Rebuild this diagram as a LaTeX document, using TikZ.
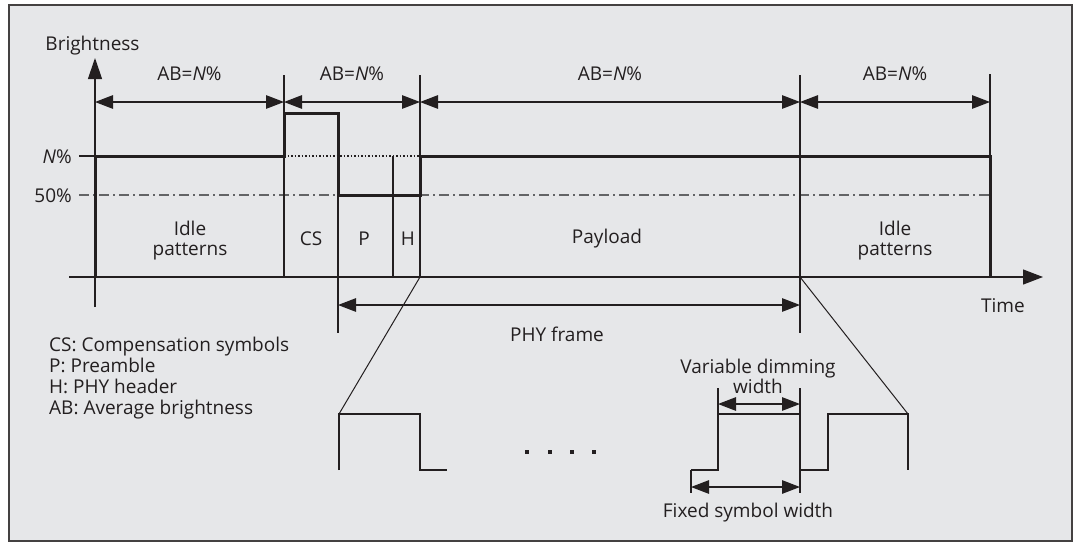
\documentclass[tikz,border=0pt]{standalone}
\usepackage{fontspec}
\setmainfont{Open Sans}
\usetikzlibrary{arrows.meta}
\definecolor{panel}{HTML}{E6E7E9}
\definecolor{ink}{HTML}{231F20}
\definecolor{midgray}{HTML}{636466}

\begin{document}
\begin{tikzpicture}[x=1pt,y=-1pt,font=\fontsize{19}{20}\selectfont,>={Triangle[length=18pt,width=13.5pt]},
  fine/.style={draw=ink,line width=1.2pt},
  signal/.style={draw=ink,line width=3pt,line join=miter},
  lbl/.style={anchor=base,inner sep=0pt,text=ink,align=center},
  dimarrow/.style={fine,<->}]
\useasboundingbox (0,0) rectangle (1080,542);
\draw[fill=panel,draw=ink!85,line width=1.2pt] (9,5) rectangle (1072,541);

% key points on the time axis
\foreach \n/\x in {t0/95,tcs/284,tp/338,th/393,tpl/420,tid/800,tend/990}
  \coordinate (\n) at (\x,277);
\coordinate (xstart) at (69,277);
\coordinate (xend) at (1043,277);
\coordinate (ybot) at (95,307);
\coordinate (ytop) at (95,58);

% levels
\draw[midgray,line width=1.1pt,dash pattern=on 10pt off 4pt on 2pt off 4pt] (79,195) -- (990,195);
\draw[ink,line width=1.1pt,dash pattern=on 1.5pt off 2pt] (tcs |- 0,156) -- (tpl |- 0,156);
\draw[fine] (79,156) -- (t0 |- 0,156);

% boundaries
\foreach \n/\a/\b in {tcs/75/277,tpl/75/277,tid/75/333,tend/74/277,th/156/277,tp/195/333}
  \draw[fine] (\n |- 0,\a) -- (\n |- 0,\b);

% axes
\draw[fine,->,>={Triangle[length=21pt,width=14pt]}] (ybot) -- (ytop);
\draw[fine,->,>={Triangle[length=20pt,width=15pt]}] (xstart) -- (xend);

% brightness signal
\draw[signal] (t0) -- (t0 |- 0,156) -- (tcs |- 0,156) -- (tcs |- 0,113) -- (tp |- 0,113)
  -- (tp |- 0,195) -- (tpl |- 0,195) -- (tpl |- 0,156) -- (tend |- 0,156) -- (tend);

% average brightness spans
\foreach \a/\b in {t0/tcs,tcs/tpl,tpl/tid,tid/tend}
  \draw[dimarrow] (\a |- 0,102) -- node[lbl,yshift=22pt] {AB=\textit{N}\%} (\b |- 0,102);

% PHY frame
\draw[dimarrow] (tp |- 0,305) -- (tid |- 0,305);
\node[lbl] (phy) at (557,341) {PHY frame};

% labels
\node[lbl] (ylabel) at (92.5,50) {Brightness};
\node[lbl] (xlabel) at (1003,312) {Time};
\node[lbl,anchor=base east] (lvlN) at (72,163) {\textit{N}\%};
\node[lbl,anchor=base east] (lvl50) at (72,202) {50\%};
\node[lbl] (idle1) at (190,255) {Idle\\patterns};
\node[lbl] (cs) at (311,245) {CS};
\node[lbl] (pre) at (364,245) {P};
\node[lbl] (hdr) at (408,245) {H};
\node[lbl] (pay) at (607,243) {Payload};
\node[lbl] (idle2) at (895,255) {Idle\\patterns};
\node[lbl,anchor=base west,align=left,font=\fontsize{19}{21}\selectfont] (legend) at (49,414)
  {CS: Compensation symbols\\P: Preamble\\H: PHY header\\AB: Average brightness};

% zoom into the payload symbols
\coordinate (zl) at (339,414);
\coordinate (zr) at (908,414);
\draw[fine,line width=1pt] (tpl) -- (zl);
\draw[fine,line width=1pt] (tid) -- (zr);
\draw[fine] (339,470) -- (zl) -- (420,414) -- (420,470) -- (447,470);
\foreach \x in {527,550,572,594}
  \fill[ink] (\x-2.2,449.8) rectangle +(4.4,4.4);
\draw[fine] (691,470) -- (718,470) -- (718,414) -- (800,414);
\draw[fine] (800,470) -- (828,470) -- (828,414) -- (zr) -- (908,470);
\draw[fine] (718,388) -- (718,414);
\draw[fine] (800,388) -- (800,493);
\draw[fine] (691,470) -- (691,493);
\draw[dimarrow] (718,404) -- (800,404);
\draw[dimarrow] (691,487) -- (800,487);
\node[lbl] (varw) at (758,393) {Variable dimming\\width};
\node[lbl] (fixw) at (748,517) {Fixed symbol width};
\end{tikzpicture}
\end{document}
